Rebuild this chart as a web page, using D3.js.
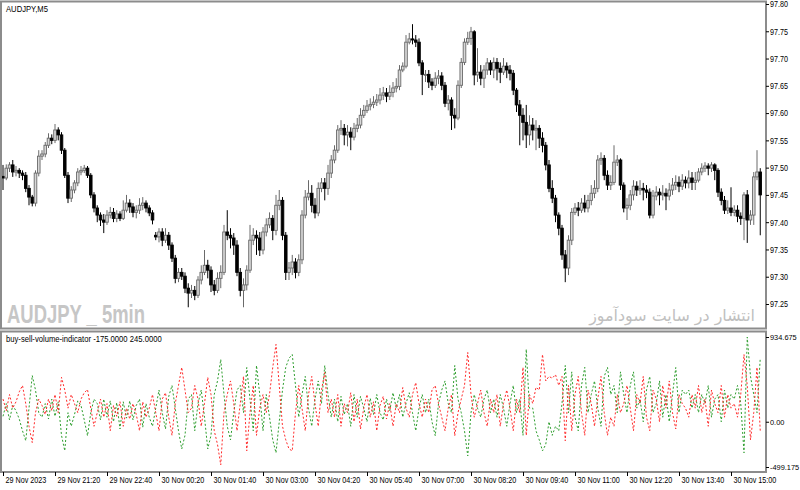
<!DOCTYPE html>
<html>
<head>
<meta charset="utf-8">
<script src="https://cdn.jsdelivr.net/npm/d3@7"></script>
<style>
  body { margin: 0; background: #fff; }
  svg text { font-family: "Liberation Sans", Arial, sans-serif; }
</style>
</head>
<body>
<svg id="chart" width="800" height="490"></svg>
<script>
/*
  AUDJPY M5 candles + buy/sell volume indicator
*/

// OHLC, one entry per 5 min bar (29 Nov 20:00 -> 30 Nov 15:45)
var opens = [
  97.484,97.481,97.499,97.505,97.492,97.495,97.490,97.486,97.462,97.446,
  97.435,97.490,97.521,97.525,97.541,97.554,97.550,97.569,97.560,97.532,
  97.486,97.444,97.459,97.472,97.492,97.495,97.499,97.486,97.450,97.426,
  97.413,97.404,97.400,97.413,97.418,97.407,97.415,97.407,97.422,97.435,
  97.428,97.418,97.422,97.431,97.435,97.426,97.417,97.376,97.373,97.382,
  97.367,97.376,97.358,97.334,97.297,97.308,97.301,97.279,97.270,97.275,
  97.266,97.294,97.308,97.321,97.312,97.285,97.275,97.297,97.308,97.382,
  97.376,97.371,97.358,97.308,97.275,97.285,97.312,97.367,97.376,97.371,
  97.349,97.382,97.395,97.407,97.385,97.431,97.440,97.376,97.308,97.316,
  97.327,97.308,97.331,97.413,97.446,97.453,97.431,97.417,97.462,97.472,
  97.462,97.490,97.514,97.532,97.569,97.572,97.560,97.565,97.556,97.572,
  97.578,97.596,97.605,97.613,97.616,97.620,97.624,97.633,97.637,97.631,
  97.638,97.646,97.649,97.679,97.686,97.730,97.736,97.734,97.730,97.692,
  97.671,97.671,97.657,97.651,97.664,97.668,97.651,97.618,97.624,97.596,
  97.591,97.651,97.693,97.730,97.737,97.749,97.670,97.675,97.664,97.679,
  97.692,97.679,97.693,97.682,97.675,97.686,97.679,97.673,97.642,97.615,
  97.596,97.583,97.560,97.578,97.569,97.572,97.554,97.541,97.505,97.462,
  97.444,97.413,97.389,97.340,97.316,97.367,97.418,97.426,97.422,97.435,
  97.426,97.440,97.453,97.462,97.514,97.517,97.486,97.468,97.473,97.510,
  97.514,97.468,97.426,97.431,97.450,97.466,97.459,97.462,97.459,97.455,
  97.413,97.448,97.455,97.450,97.453,97.448,97.459,97.468,97.473,97.466,
  97.477,97.472,97.481,97.473,97.477,97.492,97.499,97.503,97.499,97.505,
  97.495,97.455,97.440,97.422,97.426,97.418,97.422,97.411,97.407,97.450,
  97.404,97.413,97.483,97.492
];
var highs = [
  97.505,97.506,97.510,97.514,97.503,97.499,97.495,97.492,97.468,97.450,
  97.495,97.532,97.532,97.547,97.563,97.561,97.580,97.574,97.565,97.536,
  97.492,97.466,97.477,97.499,97.503,97.505,97.503,97.490,97.455,97.431,
  97.418,97.415,97.422,97.428,97.426,97.422,97.420,97.440,97.450,97.442,
  97.435,97.431,97.444,97.446,97.440,97.431,97.422,97.382,97.389,97.389,
  97.389,97.382,97.363,97.340,97.316,97.316,97.308,97.288,97.285,97.283,
  97.301,97.321,97.349,97.331,97.319,97.294,97.308,97.321,97.395,97.422,
  97.389,97.380,97.367,97.316,97.297,97.321,97.395,97.389,97.385,97.382,
  97.391,97.407,97.418,97.413,97.450,97.459,97.446,97.382,97.327,97.340,
  97.334,97.341,97.422,97.459,97.477,97.468,97.444,97.473,97.481,97.481,
  97.505,97.523,97.541,97.578,97.587,97.580,97.578,97.574,97.582,97.591,
  97.609,97.615,97.624,97.627,97.631,97.635,97.646,97.648,97.646,97.651,
  97.657,97.664,97.688,97.693,97.743,97.747,97.763,97.743,97.737,97.697,
  97.679,97.679,97.664,97.675,97.679,97.675,97.657,97.633,97.629,97.609,
  97.660,97.701,97.737,97.749,97.758,97.752,97.719,97.688,97.688,97.701,
  97.697,97.702,97.701,97.693,97.701,97.693,97.688,97.679,97.646,97.624,
  97.609,97.615,97.596,97.591,97.587,97.578,97.565,97.547,97.514,97.477,
  97.450,97.418,97.395,97.349,97.376,97.426,97.435,97.437,97.444,97.450,
  97.450,97.468,97.477,97.523,97.528,97.523,97.495,97.486,97.541,97.523,
  97.517,97.473,97.444,97.459,97.477,97.475,97.477,97.472,97.468,97.462,
  97.459,97.466,97.462,97.468,97.462,97.472,97.481,97.486,97.484,97.488,
  97.484,97.495,97.492,97.492,97.499,97.508,97.510,97.508,97.510,97.508,
  97.499,97.462,97.448,97.440,97.464,97.431,97.431,97.418,97.455,97.459,
  97.422,97.492,97.532,97.499
];
var lows = [
  97.459,97.477,97.492,97.483,97.484,97.481,97.477,97.455,97.431,97.429,
  97.429,97.484,97.514,97.519,97.536,97.543,97.545,97.550,97.525,97.481,
  97.435,97.437,97.453,97.466,97.486,97.490,97.481,97.444,97.418,97.400,
  97.393,97.380,97.395,97.407,97.400,97.400,97.402,97.404,97.418,97.417,
  97.409,97.407,97.415,97.422,97.418,97.411,97.396,97.367,97.363,97.356,
  97.362,97.349,97.327,97.288,97.290,97.294,97.270,97.244,97.261,97.257,
  97.261,97.286,97.303,97.297,97.272,97.266,97.270,97.279,97.303,97.367,
  97.352,97.340,97.301,97.264,97.244,97.275,97.307,97.358,97.340,97.338,
  97.341,97.374,97.389,97.367,97.376,97.422,97.367,97.294,97.294,97.303,
  97.297,97.301,97.323,97.407,97.440,97.418,97.407,97.411,97.455,97.440,
  97.450,97.481,97.508,97.527,97.560,97.541,97.539,97.532,97.550,97.565,
  97.572,97.591,97.600,97.605,97.609,97.613,97.616,97.624,97.620,97.624,
  97.629,97.638,97.642,97.675,97.682,97.726,97.726,97.721,97.686,97.633,
  97.657,97.646,97.642,97.646,97.653,97.642,97.611,97.605,97.569,97.572,
  97.587,97.646,97.688,97.725,97.725,97.651,97.657,97.651,97.646,97.670,
  97.670,97.664,97.660,97.655,97.670,97.664,97.660,97.633,97.602,97.541,
  97.550,97.536,97.541,97.550,97.532,97.536,97.528,97.495,97.455,97.435,
  97.400,97.376,97.331,97.290,97.303,97.358,97.413,97.411,97.417,97.418,
  97.418,97.431,97.444,97.455,97.505,97.477,97.459,97.459,97.468,97.503,
  97.459,97.418,97.404,97.422,97.440,97.448,97.450,97.440,97.444,97.407,
  97.407,97.440,97.431,97.440,97.422,97.440,97.450,97.459,97.455,97.459,
  97.462,97.462,97.459,97.459,97.473,97.486,97.492,97.486,97.492,97.477,
  97.446,97.431,97.415,97.415,97.411,97.411,97.400,97.395,97.367,97.362,
  97.395,97.395,97.477,97.376
];
var closes = [
  97.481,97.499,97.505,97.492,97.495,97.490,97.486,97.462,97.446,97.435,
  97.490,97.521,97.525,97.541,97.554,97.550,97.569,97.560,97.532,97.486,
  97.444,97.459,97.472,97.492,97.495,97.499,97.486,97.450,97.426,97.413,
  97.404,97.400,97.413,97.418,97.407,97.415,97.407,97.422,97.435,97.428,
  97.418,97.422,97.431,97.435,97.426,97.417,97.404,97.373,97.382,97.367,
  97.376,97.358,97.334,97.297,97.308,97.301,97.279,97.270,97.275,97.266,
  97.294,97.308,97.321,97.312,97.285,97.275,97.297,97.308,97.382,97.376,
  97.371,97.358,97.308,97.275,97.285,97.312,97.367,97.376,97.371,97.349,
  97.382,97.395,97.407,97.385,97.431,97.440,97.376,97.308,97.316,97.327,
  97.308,97.331,97.413,97.446,97.453,97.431,97.417,97.462,97.472,97.462,
  97.490,97.514,97.532,97.569,97.572,97.560,97.565,97.556,97.572,97.578,
  97.596,97.605,97.613,97.616,97.620,97.624,97.633,97.637,97.631,97.638,
  97.646,97.649,97.679,97.686,97.730,97.736,97.734,97.730,97.692,97.671,
  97.671,97.657,97.651,97.664,97.668,97.651,97.618,97.624,97.596,97.591,
  97.651,97.693,97.730,97.737,97.749,97.670,97.675,97.664,97.679,97.692,
  97.679,97.693,97.682,97.675,97.686,97.679,97.673,97.642,97.615,97.596,
  97.583,97.560,97.578,97.569,97.572,97.554,97.541,97.505,97.462,97.444,
  97.413,97.389,97.340,97.316,97.367,97.418,97.426,97.422,97.435,97.426,
  97.440,97.453,97.462,97.514,97.517,97.486,97.468,97.473,97.510,97.514,
  97.468,97.426,97.431,97.450,97.466,97.459,97.462,97.459,97.455,97.413,
  97.448,97.455,97.450,97.453,97.448,97.459,97.468,97.473,97.466,97.477,
  97.472,97.481,97.473,97.477,97.492,97.499,97.503,97.499,97.505,97.495,
  97.455,97.440,97.422,97.426,97.418,97.422,97.411,97.407,97.450,97.404,
  97.413,97.483,97.492,97.450
];

// indicator buffers (green = buy, red = sell)
var buyVolume = [
  60,200,20,180,120,30,-100,-210,150,510,350,100,50,
  200,30,250,60,220,-150,-320,
  100,-50,80,230,180,20,-155,100,250,
  200,20,250,50,230,0,210,-80,220,40,230,20,180,250,-60,200,50,
  -50,150,350,100,-80,280,400,150,-100,-300,-150,250,
  300,-100,200,350,50,-300,-150,300,450,
  687,300,-50,-200,100,350,
  400,100,598,250,-100,620,300,-100,
  300,50,-200,-343,0,350,600,700,
  742,400,50,300,500,150,-50,250,450,200,620,300,
  50,250,0,280,80,200,-50,300,50,280,150,0,260,80,300,100,20,250,120,320,
  150,300,50,200,320,100,-100,150,300,100,250,0,-155,200,350,
  450,200,100,620,250,100,-100,-377,100,300,150,50,250,350,100,
  250,50,300,150,-50,200,400,100,250,-150,800,150,150,
  -100,-200,-321,-250,0,-150,-50,-100,200,620,
  100,550,50,-100,400,600,100,300,450,150,-50,500,600,300,400,100,550,
  300,100,400,550,150,250,0,350,500,100,200,450,50,300,0,300,598,100,350,300,
  350,150,300,100,300,200,400,50,250,300,0,350,150,300,250,
  400,200,-343,934,500,300,100,700
];
var sellVolume = [
  250,120,300,150,220,330,400,200,-50,-230,100,250,180,
  80,250,120,300,100,490,350,
  150,300,200,100,250,320,355,150,-50,
  100,250,50,200,-100,180,60,220,-50,150,30,200,80,-100,220,50,150,
  300,100,-100,250,320,50,-150,200,400,600,350,100,
  150,400,250,-50,200,490,300,-100,-250,
  -476,100,300,450,200,-100,
  200,500,-321,100,400,-150,150,300,
  100,300,600,853,400,-50,-200,-300,
  -321,100,400,150,-100,300,500,200,-50,350,543,100,
  250,50,300,-50,200,100,320,0,250,-80,150,300,50,220,-100,180,280,30,200,-50,
  200,100,377,150,50,300,432,200,50,250,100,350,399,200,50,
  -100,150,300,-155,100,250,400,764,300,50,200,350,100,-50,250,
  100,300,-50,200,350,150,-100,250,100,600,-150,300,200,
  380,350,742,450,500,480,520,400,500,-210,
  400,-100,300,500,100,-150,350,200,-50,250,500,100,-150,50,-50,300,100,
  200,400,150,-100,300,200,500,50,-100,350,250,0,400,150,450,100,-80,300,200,150,
  50,300,150,400,100,250,-50,350,200,100,400,50,300,150,200,
  50,300,742,400,-200,100,600,-100
];

var timeLabels = ["29 Nov 2023","29 Nov 21:20","29 Nov 22:40","30 Nov 00:20","30 Nov 01:40",
  "30 Nov 03:00","30 Nov 04:20","30 Nov 05:40","30 Nov 07:00","30 Nov 08:20",
  "30 Nov 09:40","30 Nov 11:00","30 Nov 12:20","30 Nov 13:40","30 Nov 15:00"];
var timeLabelBars = [0,16,32,48,64,80,96,112,128,144,160,176,192,208,224];
var priceTicks = [97.80,97.75,97.70,97.65,97.60,97.55,97.50,97.45,97.40,97.35,97.30,97.25];
var volumeTicks = [934.675, 0, -499.175];
var volumeTickText = ["934.675", "0.00", "-499.175"];

var svg = d3.select("#chart"),
    N = closes.length,
    right = 766,
    frameColor = "#8c8c8c";

var x = d3.scaleLinear().domain([0, N - 1]).range([3, 3 + 3.25 * (N - 1)]);
var y = d3.scaleLinear().domain([97.25, 97.80]).range([304, 4]);
var yVol = d3.scaleLinear().domain([-499.175, 934.675]).range([467, 337]);

// narrow the small terminal-style texts (the reference font is much narrower)
function squeeze(selection, k) {
  selection.each(function() {
    var w = this.getComputedTextLength();
    d3.select(this).attr("textLength", w * k).attr("lengthAdjust", "spacingAndGlyphs");
  });
}

svg.append("rect").attr("width", 800).attr("height", 490).attr("fill", "#fff");

var defs = svg.append("defs");
defs.append("clipPath").attr("id", "clipMain")
  .append("rect").attr("x", 2).attr("y", 2).attr("width", right - 2).attr("height", 325);
defs.append("clipPath").attr("id", "clipVol")
  .append("rect").attr("x", 2).attr("y", 332).attr("width", right - 2).attr("height", 139);

//Watermarks
svg.append("text")
  .attr("x", 7).attr("y", 323)
  .attr("textLength", 138).attr("lengthAdjust", "spacingAndGlyphs")
  .style("font-size", "25px").style("font-weight", "bold")
  .style("fill", "#c6c6c6")
  .text("AUDJPY _ 5min");

var site = svg.append("text")
  .attr("x", 755).attr("y", 321)
  .attr("text-anchor", "end")
  .style("font-family", "'DejaVu Sans', sans-serif")
  .style("font-size", "18px")
  .style("fill", "#c0c0c0")
  .text("انتشار در سایت سودآموز");
// fit the persian watermark to its width in the reference (~166px)
site.style("font-size", (18 * 166 / site.node().getComputedTextLength()) + "px");

//Candles
var candles = svg.append("g").attr("clip-path", "url(#clipMain)")
  .selectAll("g").data(closes).enter().append("g");

candles.append("line")
  .attr("x1", function(d, i) { return x(i); })
  .attr("x2", function(d, i) { return x(i); })
  .attr("y1", function(d, i) { return y(highs[i]); })
  .attr("y2", function(d, i) { return y(lows[i]); })
  .attr("stroke", function(d, i) { return d >= opens[i] ? "#6a6a6a" : "#000"; })
  .attr("stroke-width", 1);

candles.append("rect")
  .attr("x", function(d, i) { return x(i) - 1.3; })
  .attr("width", 2.6)
  .attr("y", function(d, i) { return y(Math.max(d, opens[i])); })
  .attr("height", function(d, i) { return Math.max(1, Math.abs(y(d) - y(opens[i]))); })
  .attr("fill", function(d, i) { return d >= opens[i] ? "#d8d8d8" : "#000"; })
  .attr("stroke", function(d, i) { return d >= opens[i] ? "#6a6a6a" : "#000"; })
  .attr("stroke-width", 0.9);

//Indicator lines
var volLine = d3.line()
  .x(function(d, i) { return x(i); })
  .y(function(d) { return yVol(d); });

var volG = svg.append("g").attr("clip-path", "url(#clipVol)");
volG.append("path").datum(buyVolume)
  .attr("d", volLine)
  .attr("fill", "none").attr("stroke", "#2e9e2e").attr("stroke-width", 1)
  .attr("stroke-dasharray", "2,2");
volG.append("path").datum(sellVolume)
  .attr("d", volLine)
  .attr("fill", "none").attr("stroke", "#ff2a2a").attr("stroke-width", 1)
  .attr("stroke-dasharray", "2,2");

//Frames
svg.append("rect").attr("x", 1).attr("y", 1.5).attr("width", right - 1).attr("height", 327)
  .attr("fill", "none").attr("stroke", frameColor).attr("stroke-width", 2);
svg.append("rect").attr("x", 1).attr("y", 331.5).attr("width", right - 1).attr("height", 140.5)
  .attr("fill", "none").attr("stroke", frameColor).attr("stroke-width", 2);

//Price axis
var priceAxis = svg.append("g")
  .attr("transform", "translate(" + right + ",0)")
  .call(d3.axisRight(y).tickValues(priceTicks).tickSize(3).tickPadding(1)
    .tickFormat(d3.format(".2f")));
priceAxis.select(".domain").remove();

var volAxis = svg.append("g")
  .attr("transform", "translate(" + right + ",0)")
  .call(d3.axisRight(yVol).tickValues(volumeTicks).tickSize(3).tickPadding(1)
    .tickFormat(function(d, i) { return volumeTickText[i]; }));
volAxis.select(".domain").remove();

//Time axis
var timeAxis = svg.append("g")
  .attr("transform", "translate(0,472)")
  .call(d3.axisBottom(x).tickValues(timeLabelBars).tickSize(4)
    .tickFormat(function(d, i) { return timeLabels[i]; }));
timeAxis.select(".domain").remove();
timeAxis.selectAll("text")
  .attr("text-anchor", "start")
  .attr("x", 2).attr("y", 5).attr("dy", "0.71em");

svg.selectAll(".tick line").attr("stroke", "#000");
svg.selectAll(".tick text")
  .style("font-size", "9px")
  .style("fill", "#000");
volAxis.selectAll(".tick text").style("font-size", "7.4px");

//Labels
svg.append("text").attr("class", "lbl").attr("x", 6).attr("y", 12)
  .style("font-size", "9px").text("AUDJPY,M5");
svg.append("text").attr("class", "lbl").attr("x", 6).attr("y", 342)
  .style("font-size", "9px").text("buy-sell-volume-indicator -175.0000 245.0000");

squeeze(priceAxis.selectAll(".tick text"), 0.8);
squeeze(timeAxis.selectAll(".tick text"), 0.8);
squeeze(svg.selectAll(".lbl"), 0.85);
</script>
</body>
</html>
